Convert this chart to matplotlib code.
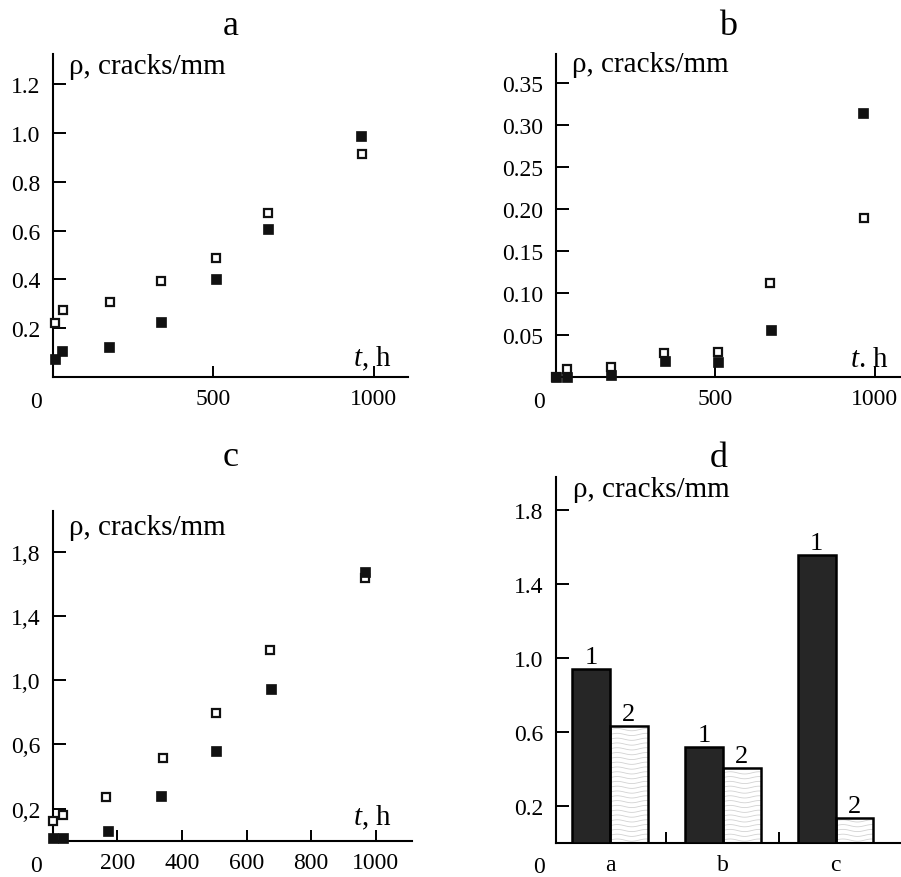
import numpy as np
import matplotlib
matplotlib.use("Agg")
from matplotlib import pyplot as plt

plt.rcParams['font.family'] = ['Liberation Serif', 'DejaVu Serif']
plt.rcParams['mathtext.fontset'] = 'custom'
plt.rcParams['mathtext.rm'] = 'Liberation Serif'
plt.rcParams['mathtext.it'] = 'Liberation Serif:italic'

# panel a
t_a1 = [8, 28, 175, 337, 507, 671, 960]
rho_a1 = [0.073, 0.104, 0.123, 0.226, 0.401, 0.607, 0.987]
t_a2 = [8, 31, 178, 338, 507, 671, 963]
rho_a2 = [0.22, 0.275, 0.308, 0.394, 0.489, 0.674, 0.913]

# panel b
t_b1 = [0, 35, 173, 341, 510, 676, 965]
rho_b1 = [0.0, 0.0, 0.003, 0.019, 0.018, 0.056, 0.315]
t_b2 = [0, 35, 173, 340, 508, 673, 966]
rho_b2 = [0.0, 0.010, 0.0126, 0.0286, 0.030, 0.112, 0.19]

# panel c
t_c1 = [0, 31, 170, 336, 506, 676, 965]
rho_c1 = [0.017, 0.017, 0.062, 0.276, 0.557, 0.943, 1.675]
t_c2 = [1, 31, 164, 340, 506, 674, 966]
rho_c2 = [0.121, 0.16, 0.274, 0.515, 0.795, 1.186, 1.634]

# panel d
groups = ['a', 'b', 'c']
bar1 = [0.94, 0.515, 1.555]
bar2 = [0.63, 0.405, 0.131]

W, H = 901, 878
fig = plt.figure(figsize=(W / 100, H / 100), dpi=100)


def px_axes(left, right, top, bottom):
    return fig.add_axes([left / W, 1 - bottom / H, (right - left) / W, (bottom - top) / H])


def style(ax):
    for s in ['top', 'right']:
        ax.spines[s].set_visible(False)
    for s in ['left', 'bottom']:
        ax.spines[s].set_linewidth(1.5)
    ax.tick_params(axis='both', direction='in', width=1.4, labelsize=17)
    ax.tick_params(axis='y', length=9, pad=9)
    ax.tick_params(axis='x', length=8, pad=8)
    # shared zero at the corner
    ax.annotate('0', xy=(0, 0), xycoords='axes fraction', xytext=(-17, -30),
                textcoords='offset pixels', ha='center', va='baseline', fontsize=17)


def scatter(ax, t1, r1, t2, r2):
    ax.plot(t2, r2, 's', ms=6.0, mfc='white', mec='#111111', mew=1.6, ls='none', clip_on=False, zorder=3)
    ax.plot(t1, r1, 's', ms=6.9, mfc='#111111', mec='#111111', mew=0.5, ls='none', clip_on=False, zorder=4)


def fig_text(x, y, s, **kw):
    fig.text(x / W, 1 - y / H, s, **kw)


ax_a = px_axes(52.6, 408, 55, 377.7)
ax_b = px_axes(556, 901, 55, 378.3)
ax_c = px_axes(52.7, 411.7, 511.7, 841.7)
ax_d = px_axes(556, 901, 478.3, 843.5)

for ax in [ax_a, ax_b, ax_c, ax_d]:
    style(ax)

scatter(ax_a, t_a1, rho_a1, t_a2, rho_a2)
ax_a.set_xlim(0, 1106)
ax_a.set_ylim(0, 1.325)
ax_a.set_xticks([500, 1000])
ax_a.set_yticks([0.2, 0.4, 0.6, 0.8, 1.0, 1.2])
ax_a.set_yticklabels(['0.2', '0.4', '0.6', '0.8', '1.0', '1.2'])

scatter(ax_b, t_b1, rho_b1, t_b2, rho_b2)
ax_b.set_xlim(0, 1083)
ax_b.set_ylim(0, 0.385)
ax_b.set_xticks([500, 1000])
ax_b.set_yticks([0.05, 0.10, 0.15, 0.20, 0.25, 0.30, 0.35])
ax_b.set_yticklabels(['0.05', '0.10', '0.15', '0.20', '0.25', '0.30', '0.35'])

scatter(ax_c, t_c1, rho_c1, t_c2, rho_c2)
ax_c.set_xlim(0, 1111)
ax_c.set_ylim(0, 2.055)
ax_c.set_xticks([200, 400, 600, 800, 1000])
ax_c.set_yticks([0.2, 0.6, 1.0, 1.4, 1.8])
ax_c.set_yticklabels(['0,2', '0,6', '1,0', '1,4', '1,8'])

# bars
pos = np.arange(len(groups))
w = 0.335
r1 = ax_d.bar(pos - w, bar1, width=w, align='edge', color='#262626', edgecolor='black', lw=1.8, zorder=3)
r2 = ax_d.bar(pos, bar2, width=w, align='edge', color='white', edgecolor='none', zorder=1)
# wavy light hatch inside the second bars
for rect in r2:
    x0, bw, bh = rect.get_x(), rect.get_width(), rect.get_height()
    xs = np.linspace(x0, x0 + bw, 60)
    for lev in np.arange(0.013, bh, 0.026):
        ys = lev + 0.006 * np.sin((xs - x0) / bw * 2 * np.pi * 1.3)
        ln, = ax_d.plot(xs, ys, color='#d2d2d2', lw=0.6, zorder=2)
        ln.set_clip_path(rect)
ax_d.bar(pos, bar2, width=w, align='edge', fill=False, edgecolor='black', lw=1.8, zorder=3)

for i in range(len(groups)):
    ax_d.annotate('1', xy=(pos[i] - w / 2, bar1[i]), xytext=(0, 6), textcoords='offset pixels',
                  ha='center', va='baseline', fontsize=19)
    ax_d.annotate('2', xy=(pos[i] + w / 2, bar2[i]), xytext=(0, 6), textcoords='offset pixels',
                  ha='center', va='baseline', fontsize=19)

ax_d.set_xlim(-0.4785, 2.579)
ax_d.set_ylim(0, 1.977)
ax_d.set_xticks([0.5, 1.5])
ax_d.set_xticklabels(['', ''])
ax_d.set_xticks(pos, minor=True)
ax_d.set_xticklabels(groups, minor=True)
ax_d.tick_params(axis='x', which='minor', length=0, labelsize=17, pad=8)
ax_d.set_yticks([0.2, 0.6, 1.0, 1.4, 1.8])
ax_d.set_yticklabels(['0.2', '0.6', '1.0', '1.4', '1.8'])

# panel letters
fig_text(230.3, 35, 'a', fontsize=26, ha='center', va='baseline')
fig_text(728.5, 35, 'b', fontsize=26, ha='center', va='baseline')
fig_text(230.3, 466, 'c', fontsize=26, ha='center', va='baseline')
fig_text(718.3, 466.7, 'd', fontsize=26, ha='center', va='baseline')

# axis captions
lab = 'ρ, cracks/mm'
fig_text(69, 74, lab, fontsize=21, ha='left', va='baseline')
fig_text(572.5, 72, lab, fontsize=21, ha='left', va='baseline')
fig_text(69, 535, lab, fontsize=21, ha='left', va='baseline')
fig_text(573, 496.7, lab, fontsize=21, ha='left', va='baseline')

fig_text(392, 366.7, '$t$, h', fontsize=21, ha='right', va='baseline')
fig_text(889, 366.7, '$t$. h', fontsize=21, ha='right', va='baseline')
fig_text(392, 825, '$t$, h', fontsize=21, ha='right', va='baseline')

fig.savefig('out.png', dpi=100)
